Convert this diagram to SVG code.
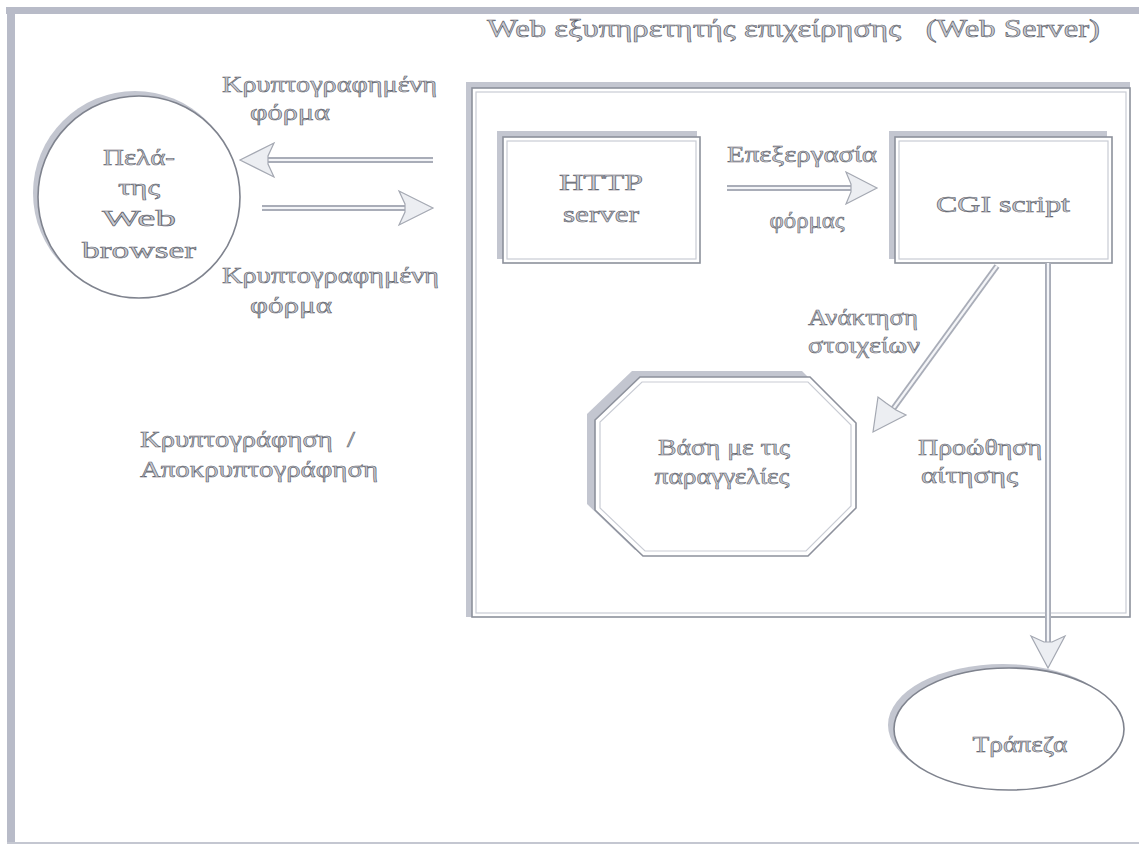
<svg xmlns="http://www.w3.org/2000/svg" width="1139" height="846" viewBox="0 0 1139 846">
  <defs>
    <style>
      .t { font-family: "Liberation Serif", "Times New Roman", serif; font-size: 24px; fill: #c9cbd2; stroke: #5e626b; stroke-width: 0.6; }
      .tm { text-anchor: middle; }
      .shade { fill: #c3c6d0; stroke: none; }
      .body { fill: #ffffff; stroke: #8d919c; stroke-width: 1.6; }
      .inner { fill: none; stroke: #c9ccd4; stroke-width: 1.2; }
      .shaft { fill: none; stroke: #a9adb8; stroke-width: 6; }
      .shaft-in { fill: none; stroke: #f4f5f8; stroke-width: 2.2; }
      .head { fill: #eceef2; stroke: #a4a8b2; stroke-width: 1.2; stroke-linejoin: miter; }
    </style>
  </defs>

  <!-- page background and frame -->
  <rect x="0" y="0" width="1139" height="846" fill="#ffffff"/>
  <rect x="6" y="7" width="1133" height="7" fill="#b8bbc8"/>
  <rect x="7" y="7" width="8" height="836" fill="#b8bbc8"/>
  <line x1="7" y1="843" x2="1139" y2="843" stroke="#c4c7d1" stroke-width="2"/>

  <!-- web server container -->
  <g id="web-server">
    <rect class="shade" x="466" y="82" width="664" height="535"/>
    <rect class="body" x="472" y="88" width="658" height="529"/>
    <rect class="inner" x="476" y="92" width="650" height="521"/>
    <text class="t" x="487" y="37" style="font-size:25px" textLength="613" lengthAdjust="spacingAndGlyphs">Web εξυπηρετητής επιχείρησης&#160;&#160; (Web Server)</text>
  </g>

  <!-- client browser -->
  <g id="client">
    <circle cx="135" cy="193" r="102" fill="#c3c6d0"/>
    <circle cx="139" cy="197" r="101" fill="#ffffff" stroke="#7f838e" stroke-width="1.6"/>
    <text class="t tm" x="139" y="165" textLength="72" lengthAdjust="spacingAndGlyphs">Πελά-</text>
    <text class="t tm" x="139" y="195" textLength="42" lengthAdjust="spacingAndGlyphs">της</text>
    <text class="t tm" x="139" y="226" textLength="74" lengthAdjust="spacingAndGlyphs">Web</text>
    <text class="t tm" x="139" y="258" textLength="114" lengthAdjust="spacingAndGlyphs">browser</text>
  </g>

  <!-- HTTP server -->
  <g id="http-server">
    <rect class="shade" x="497" y="131" width="200" height="128"/>
    <rect class="body" x="503" y="137" width="197" height="126"/>
    <rect class="inner" x="507" y="141" width="189" height="118"/>
    <text class="t tm" x="601" y="190" textLength="84" lengthAdjust="spacingAndGlyphs">HTTP</text>
    <text class="t tm" x="601" y="222" textLength="76" lengthAdjust="spacingAndGlyphs">server</text>
  </g>

  <!-- CGI script -->
  <g id="cgi-script">
    <rect class="shade" x="889" y="131" width="218" height="128"/>
    <rect class="body" x="895" y="137" width="217" height="126"/>
    <rect class="inner" x="899" y="141" width="209" height="118"/>
    <text class="t tm" x="1003" y="212" textLength="134" lengthAdjust="spacingAndGlyphs">CGI script</text>
  </g>

  <!-- order database -->
  <g id="orders-db">
    <polygon class="shade" points="632,371 802,371 848,417 848,502 800,550 635,550 587,504 587,414"/>
    <polygon class="body" points="640,377 810,377 856,423 856,508 808,556 643,556 595,510 595,420"/>
    <polygon class="inner" points="642,382 808,382 851,425 851,506 806,551 645,551 600,508 600,422"/>
    <text class="t tm" x="724" y="455" textLength="132" lengthAdjust="spacingAndGlyphs">Βάση με τις</text>
    <text class="t tm" x="722" y="484" textLength="135" lengthAdjust="spacingAndGlyphs">παραγγελίες</text>
  </g>

  <!-- bank -->
  <g id="bank">
    <ellipse cx="1003" cy="725" rx="115" ry="61" fill="#c3c6d0"/>
    <ellipse cx="1009" cy="729" rx="115" ry="61" fill="#ffffff" stroke="#7f838e" stroke-width="1.6"/>
    <text class="t tm" x="1020" y="752" textLength="95" lengthAdjust="spacingAndGlyphs">Τράπεζα</text>
  </g>

  <!-- connectors -->
  <g id="connectors">
    <!-- encrypted form: server to browser -->
    <line class="shaft" x1="433" y1="160" x2="266" y2="160"/>
    <line class="shaft-in" x1="433" y1="160" x2="266" y2="160"/>
    <polygon class="head" points="240,160 274,143 268,156 268,164 274,177"/>
    <!-- encrypted form: browser to server -->
    <line class="shaft" x1="262" y1="208" x2="405" y2="208"/>
    <line class="shaft-in" x1="262" y1="208" x2="405" y2="208"/>
    <polygon class="head" points="433,208 399,191 405,204 405,212 399,225"/>
    <!-- form processing -->
    <line class="shaft" x1="727" y1="188" x2="852" y2="188"/>
    <line class="shaft-in" x1="727" y1="188" x2="852" y2="188"/>
    <polygon class="head" points="877,188 846,172 851,184 851,192 846,204"/>
    <!-- data retrieval -->
    <line class="shaft" x1="997" y1="266" x2="893" y2="409"/>
    <line class="shaft-in" x1="997" y1="266" x2="893" y2="409"/>
    <polygon class="head" points="873,432 878,397 886,403 896,410 906,415"/>
    <!-- request forwarding -->
    <line class="shaft" x1="1048" y1="263" x2="1048" y2="645"/>
    <line class="shaft-in" x1="1048" y1="263" x2="1048" y2="645"/>
    <polygon class="head" points="1048,668 1031,636 1044,642 1052,642 1065,636"/>
  </g>

  <!-- free labels -->
  <g id="labels">
    <text class="t" x="222" y="92" textLength="215" lengthAdjust="spacingAndGlyphs">Κρυπτογραφημένη</text>
    <text class="t" x="250" y="120" textLength="80" lengthAdjust="spacingAndGlyphs">φόρμα</text>
    <text class="t" x="222" y="283" textLength="217" lengthAdjust="spacingAndGlyphs">Κρυπτογραφημένη</text>
    <text class="t" x="250" y="313" textLength="82" lengthAdjust="spacingAndGlyphs">φόρμα</text>
    <text class="t tm" x="802" y="162" textLength="150" lengthAdjust="spacingAndGlyphs">Επεξεργασία</text>
    <text class="t tm" x="807" y="228" textLength="75" lengthAdjust="spacingAndGlyphs">φόρμας</text>
    <text class="t tm" x="863" y="325" textLength="110" lengthAdjust="spacingAndGlyphs">Ανάκτηση</text>
    <text class="t tm" x="864" y="353" textLength="112" lengthAdjust="spacingAndGlyphs">στοιχείων</text>
    <text class="t" x="918" y="455" textLength="124" lengthAdjust="spacingAndGlyphs">Προώθηση</text>
    <text class="t" x="921" y="483" textLength="97" lengthAdjust="spacingAndGlyphs">αίτησης</text>
    <text class="t" x="140" y="447" textLength="215" lengthAdjust="spacingAndGlyphs">Κρυπτογράφηση&#160; /</text>
    <text class="t" x="140" y="477" textLength="238" lengthAdjust="spacingAndGlyphs">Αποκρυπτογράφηση</text>
  </g>
</svg>
